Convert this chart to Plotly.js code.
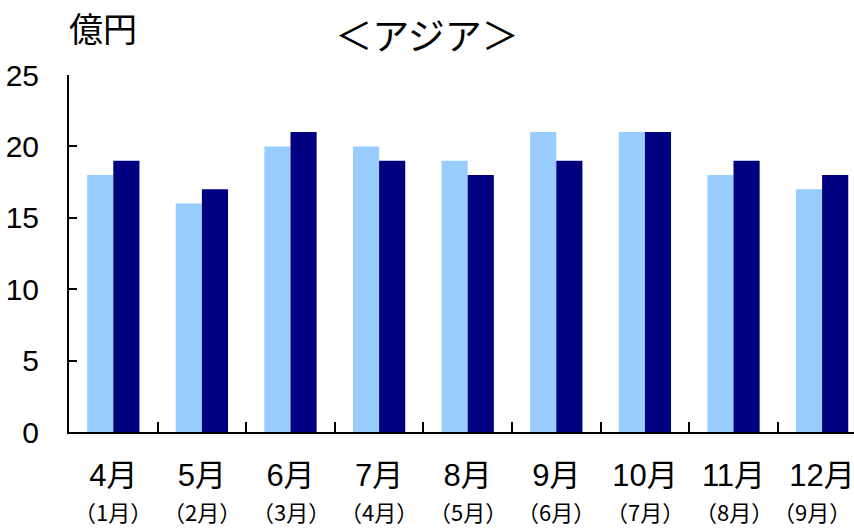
<!DOCTYPE html>
<html><head><meta charset="utf-8">
<script src="https://cdn.plot.ly/plotly-3.0.1.min.js"></script>
<style>body{margin:0;padding:0;background:#fff}#chart{width:854px;height:528px}</style>
</head><body><div id="chart"></div>
<script>
const months = ["4月","5月","6月","7月","8月","9月","10月","11月","12月"];
const subLabels = ["（1月）","（2月）","（3月）","（4月）","（5月）","（6月）","（7月）","（8月）","（9月）"];
const seriesLight = [18,16,20,20,19,21,21,18,17];
const seriesDark = [19,17,21,19,18,19,21,19,18];
const yTicks = [0,5,10,15,20,25];

const font = "Liberation Sans, Arial, Noto Sans CJK JP, sans-serif";
const cjkFont = "Noto Sans CJK SC, Noto Sans CJK JP, sans-serif";

const data = [
  {type:"bar", x:months, y:seriesLight, marker:{color:"#99CCFF"}, name:"a"},
  {type:"bar", x:months, y:seriesDark, marker:{color:"#000080"}, name:"b"}
];
const n = months.length;
const subAnn = subLabels.map((s,i)=>({
  text:s, xref:"x", yref:"paper", x:months[i], y:-0.221, yanchor:"middle",
  xanchor:"center", xshift: i===n-1 ? -10 : 0,
  showarrow:false, font:{size:22, family:cjkFont}
}));
const layout = {
  width:854, height:528,
  margin:{l:69, r:0, t:75, b:96},
  paper_bgcolor:"#fff", plot_bgcolor:"#fff",
  showlegend:false,
  barmode:"group", bargap:0.41, bargroupgap:0,
  font:{family:font, color:"#000"},
  title:{text:"＜アジア＞", x:0.5, xanchor:"center", y:0.93, yanchor:"middle", font:{size:37, family:font}},
  xaxis:{
    range:[-0.5, 8.36], tickmode:"array", tickvals:months, ticktext:months,
    tickson:"boundaries", ticks:"inside", ticklen:10, tickwidth:2, tickcolor:"#000",
    showline:true, linecolor:"#000", linewidth:2, showgrid:false, zeroline:false,
    tickfont:{size:31, family:font}, ticklabelstandoff:15
  },
  yaxis:{
    range:[0,25], tickvals:yTicks, ticks:"inside", ticklen:8, tickwidth:2, tickcolor:"#000",
    showline:true, linecolor:"#000", linewidth:2, showgrid:false, zeroline:false,
    tickfont:{size:30, family:font}, ticklabelstandoff:22
  },
  annotations:[
    {text:"億円", xref:"paper", yref:"paper", x:0.043, y:1.125, xanchor:"center", yanchor:"middle", showarrow:false, font:{size:34, family:font}}
  ].concat(subAnn)
};
Plotly.newPlot("chart", data, layout, {displayModeBar:false, staticPlot:true});
</script></body></html>
